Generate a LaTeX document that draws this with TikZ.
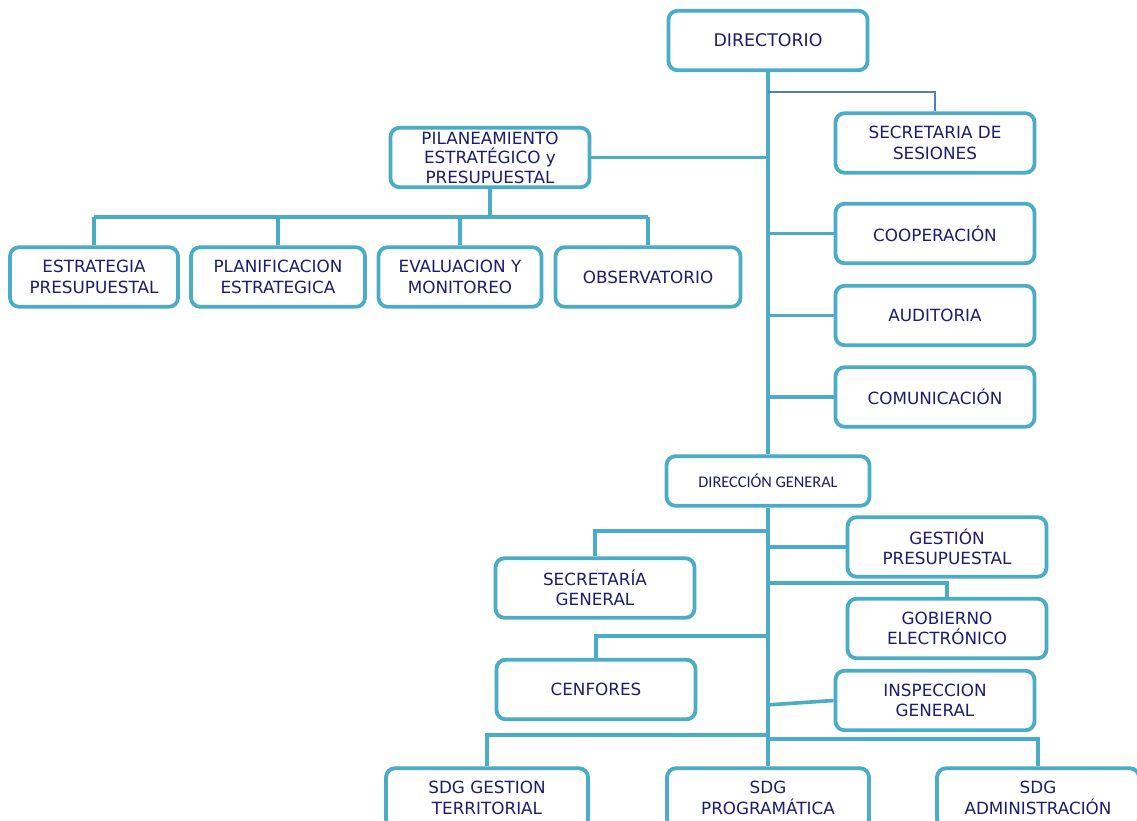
\documentclass[tikz,border=0pt]{standalone}
\usepackage{fontspec}
\setmainfont{DejaVu Sans}
\newfontfamily\calib{Carlito}
\definecolor{bordc}{RGB}{75,172,198}
\definecolor{txtc}{RGB}{28,28,112}
\definecolor{thinc}{RGB}{79,129,189}
\begin{document}
\begin{tikzpicture}[x=1pt,y=-1pt,
  box/.style={draw=bordc, line width=3.8pt, rounded corners=9pt, fill=white,
    align=center, text=txtc, font=\fontsize{16.8}{20.5}\selectfont,
    minimum width=199pt, minimum height=59.5pt, inner sep=1pt},
  conn/.style={draw=bordc, line width=3.6pt},
  thinconn/.style={draw=thinc, line width=1.2pt}]
\clip (0,0) rectangle (1137,820);
\fill[white] (0,0) rectangle (1137,820);

% junction coordinates
\coordinate (jses) at (768,92);
\coordinate (jpb) at (490,217);
\coordinate (jsg) at (768,531);
\coordinate (jge) at (768,583);
\coordinate (jcen) at (768,636);
\coordinate (jig) at (766,705);
\coordinate (jbl) at (768,735);
\coordinate (jbr) at (768,739);

% nodes
\node[box, font=\fontsize{17.4}{21}\selectfont] (dir) at (768,40.5) {DIRECTORIO};
\node[box] (ses) at (935,143) {SECRETARIA DE\\SESIONES};
\node[box, font=\fontsize{16.8}{19.6}\selectfont] (pila) at (490,157.5) {PILANEAMIENTO\\ESTRATÉGICO y\\PRESUPUESTAL};
\node[box] (coop) at (935,233.5) {COOPERACIÓN};
\node[box] (aud) at (935,315.5) {AUDITORIA};
\node[box] (com) at (935,397) {COMUNICACIÓN};
\node[box, minimum width=168pt] (est) at (94,277) {ESTRATEGIA\\PRESUPUESTAL};
\node[box, minimum width=174pt] (pla) at (278,277) {PLANIFICACION\\ESTRATEGICA};
\node[box, minimum width=163pt] (eva) at (460,277) {EVALUACION Y\\MONITOREO};
\node[box, minimum width=185pt] (obs) at (648,277) {OBSERVATORIO};
\node[box, minimum width=203pt, minimum height=49.5pt, font=\calib\fontsize{16.3}{19}\selectfont] (dg) at (768,481) {DIRECCIÓN GENERAL};
\node[box] (gp) at (947,547) {GESTIÓN\\PRESUPUESTAL};
\node[box] (sg) at (595,588) {SECRETARÍA\\GENERAL};
\node[box] (ge) at (947,628.5) {GOBIERNO\\ELECTRÓNICO};
\node[box] (cen) at (596,689.5) {CENFORES};
\node[box] (ig) at (935,700.5) {INSPECCION\\GENERAL};
\node[box, minimum width=202pt] (s1) at (487,798) {SDG GESTION\\TERRITORIAL};
\node[box, minimum width=202pt] (s2) at (768,798) {SDG\\PROGRAMÁTICA};
\node[box, minimum width=202pt] (s3) at (1038,798) {SDG\\ADMINISTRACIÓN};

% connectors
\draw[conn] (dir.south) -- (dg.north);
\draw[thinconn] (jses) -| (ses.north);
\draw[conn] (pila.east) -- (pila.east -| dir.south);
\draw[conn] (pila.south) -- (jpb);
\draw[conn] (jpb -| est.north) -- (jpb -| obs.north);
\foreach \n in {est,pla,eva,obs} \draw[conn] (jpb -| \n.north) -- (\n.north);
\foreach \n in {coop,aud,com} \draw[conn] (\n.west) -- (\n.west -| dir.south);
\draw[conn] (dg.south) -- (s2.north);
\draw[conn] (jsg) -| (sg.north);
\draw[conn] (gp.west) -- (gp.west -| dg.south);
\draw[conn] (jge) -| (ge.north);
\draw[conn] (jcen) -| (cen.north);
\draw[conn] (jig) -- (ig.west);
\draw[conn] (jbl) -| (s1.north);
\draw[conn] (jbr) -| (s3.north);
\end{tikzpicture}
\end{document}
